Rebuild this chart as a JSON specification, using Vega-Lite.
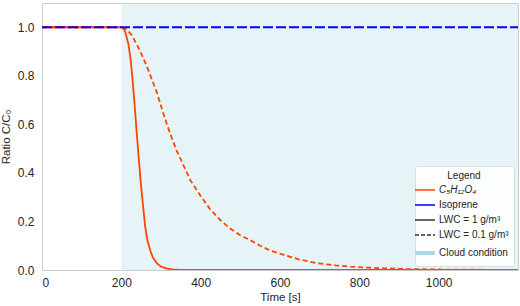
{
  "$schema": "https://vega.github.io/schema/vega-lite/v6.json",
  "width": 476,
  "height": 267,
  "autosize": "none",
  "padding": {"left": 42, "top": 3, "right": 2, "bottom": 36},
  "background": "white",
  "config": {
    "font": "Liberation Sans",
    "view": {"stroke": "#cccccc", "strokeWidth": 1},
    "axis": {"domain": false, "ticks": false, "grid": false, "labelFontSize": 12, "labelColor": "#262626", "titleColor": "#262626", "titleFontSize": 11.5, "titleFontWeight": "normal", "labelFont": "Liberation Sans", "titleFont": "Liberation Sans"}
  },
  "datasets": {
    "cloud": [{"start": 200, "end": 1200}],
    "series": [
      {"t": 0, "v": 1.0, "species": "C₅H₁₂O₄", "lwc": "LWC = 1 g/m³"},
      {"t": 200, "v": 1.0, "species": "C₅H₁₂O₄", "lwc": "LWC = 1 g/m³"},
      {"t": 205, "v": 0.995, "species": "C₅H₁₂O₄", "lwc": "LWC = 1 g/m³"},
      {"t": 210, "v": 0.98, "species": "C₅H₁₂O₄", "lwc": "LWC = 1 g/m³"},
      {"t": 218, "v": 0.93, "species": "C₅H₁₂O₄", "lwc": "LWC = 1 g/m³"},
      {"t": 224, "v": 0.86, "species": "C₅H₁₂O₄", "lwc": "LWC = 1 g/m³"},
      {"t": 229, "v": 0.77, "species": "C₅H₁₂O₄", "lwc": "LWC = 1 g/m³"},
      {"t": 234, "v": 0.67, "species": "C₅H₁₂O₄", "lwc": "LWC = 1 g/m³"},
      {"t": 239, "v": 0.56, "species": "C₅H₁₂O₄", "lwc": "LWC = 1 g/m³"},
      {"t": 244, "v": 0.46, "species": "C₅H₁₂O₄", "lwc": "LWC = 1 g/m³"},
      {"t": 249, "v": 0.36, "species": "C₅H₁₂O₄", "lwc": "LWC = 1 g/m³"},
      {"t": 255, "v": 0.26, "species": "C₅H₁₂O₄", "lwc": "LWC = 1 g/m³"},
      {"t": 260, "v": 0.18, "species": "C₅H₁₂O₄", "lwc": "LWC = 1 g/m³"},
      {"t": 266, "v": 0.12, "species": "C₅H₁₂O₄", "lwc": "LWC = 1 g/m³"},
      {"t": 273, "v": 0.08, "species": "C₅H₁₂O₄", "lwc": "LWC = 1 g/m³"},
      {"t": 280, "v": 0.05, "species": "C₅H₁₂O₄", "lwc": "LWC = 1 g/m³"},
      {"t": 290, "v": 0.027, "species": "C₅H₁₂O₄", "lwc": "LWC = 1 g/m³"},
      {"t": 300, "v": 0.014, "species": "C₅H₁₂O₄", "lwc": "LWC = 1 g/m³"},
      {"t": 315, "v": 0.006, "species": "C₅H₁₂O₄", "lwc": "LWC = 1 g/m³"},
      {"t": 330, "v": 0.002, "species": "C₅H₁₂O₄", "lwc": "LWC = 1 g/m³"},
      {"t": 350, "v": 0.0, "species": "C₅H₁₂O₄", "lwc": "LWC = 1 g/m³"},
      {"t": 1200, "v": 0.0, "species": "C₅H₁₂O₄", "lwc": "LWC = 1 g/m³"},
      {"t": 0, "v": 1.0, "species": "C₅H₁₂O₄", "lwc": "LWC = 0.1 g/m³"},
      {"t": 200, "v": 1.0, "species": "C₅H₁₂O₄", "lwc": "LWC = 0.1 g/m³"},
      {"t": 214, "v": 0.99, "species": "C₅H₁₂O₄", "lwc": "LWC = 0.1 g/m³"},
      {"t": 225, "v": 0.97, "species": "C₅H₁₂O₄", "lwc": "LWC = 0.1 g/m³"},
      {"t": 239, "v": 0.93, "species": "C₅H₁₂O₄", "lwc": "LWC = 0.1 g/m³"},
      {"t": 252, "v": 0.885, "species": "C₅H₁₂O₄", "lwc": "LWC = 0.1 g/m³"},
      {"t": 264, "v": 0.84, "species": "C₅H₁₂O₄", "lwc": "LWC = 0.1 g/m³"},
      {"t": 277, "v": 0.785, "species": "C₅H₁₂O₄", "lwc": "LWC = 0.1 g/m³"},
      {"t": 290, "v": 0.73, "species": "C₅H₁₂O₄", "lwc": "LWC = 0.1 g/m³"},
      {"t": 302, "v": 0.665, "species": "C₅H₁₂O₄", "lwc": "LWC = 0.1 g/m³"},
      {"t": 315, "v": 0.6, "species": "C₅H₁₂O₄", "lwc": "LWC = 0.1 g/m³"},
      {"t": 327, "v": 0.545, "species": "C₅H₁₂O₄", "lwc": "LWC = 0.1 g/m³"},
      {"t": 340, "v": 0.49, "species": "C₅H₁₂O₄", "lwc": "LWC = 0.1 g/m³"},
      {"t": 357, "v": 0.43, "species": "C₅H₁₂O₄", "lwc": "LWC = 0.1 g/m³"},
      {"t": 374, "v": 0.37, "species": "C₅H₁₂O₄", "lwc": "LWC = 0.1 g/m³"},
      {"t": 400, "v": 0.305, "species": "C₅H₁₂O₄", "lwc": "LWC = 0.1 g/m³"},
      {"t": 424, "v": 0.25, "species": "C₅H₁₂O₄", "lwc": "LWC = 0.1 g/m³"},
      {"t": 450, "v": 0.205, "species": "C₅H₁₂O₄", "lwc": "LWC = 0.1 g/m³"},
      {"t": 475, "v": 0.17, "species": "C₅H₁₂O₄", "lwc": "LWC = 0.1 g/m³"},
      {"t": 500, "v": 0.143, "species": "C₅H₁₂O₄", "lwc": "LWC = 0.1 g/m³"},
      {"t": 526, "v": 0.122, "species": "C₅H₁₂O₄", "lwc": "LWC = 0.1 g/m³"},
      {"t": 550, "v": 0.1, "species": "C₅H₁₂O₄", "lwc": "LWC = 0.1 g/m³"},
      {"t": 576, "v": 0.08, "species": "C₅H₁₂O₄", "lwc": "LWC = 0.1 g/m³"},
      {"t": 610, "v": 0.062, "species": "C₅H₁₂O₄", "lwc": "LWC = 0.1 g/m³"},
      {"t": 650, "v": 0.043, "species": "C₅H₁₂O₄", "lwc": "LWC = 0.1 g/m³"},
      {"t": 694, "v": 0.028, "species": "C₅H₁₂O₄", "lwc": "LWC = 0.1 g/m³"},
      {"t": 740, "v": 0.019, "species": "C₅H₁₂O₄", "lwc": "LWC = 0.1 g/m³"},
      {"t": 778, "v": 0.014, "species": "C₅H₁₂O₄", "lwc": "LWC = 0.1 g/m³"},
      {"t": 820, "v": 0.01, "species": "C₅H₁₂O₄", "lwc": "LWC = 0.1 g/m³"},
      {"t": 862, "v": 0.007, "species": "C₅H₁₂O₄", "lwc": "LWC = 0.1 g/m³"},
      {"t": 920, "v": 0.004, "species": "C₅H₁₂O₄", "lwc": "LWC = 0.1 g/m³"},
      {"t": 1000, "v": 0.002, "species": "C₅H₁₂O₄", "lwc": "LWC = 0.1 g/m³"},
      {"t": 1100, "v": 0.001, "species": "C₅H₁₂O₄", "lwc": "LWC = 0.1 g/m³"},
      {"t": 1200, "v": 0.0, "species": "C₅H₁₂O₄", "lwc": "LWC = 0.1 g/m³"},
      {"t": 0, "v": 1.0, "species": "Isoprene", "lwc": "LWC = 0.1 g/m³"},
      {"t": 1200, "v": 1.0, "species": "Isoprene", "lwc": "LWC = 0.1 g/m³"}
    ]
  },
  "layer": [
    {
      "data": {"name": "cloud"},
      "mark": {"type": "rect", "color": "#add8e6", "opacity": 0.3},
      "encoding": {
        "x": {"field": "start", "type": "quantitative"},
        "x2": {"field": "end"}
      }
    },
    {
      "data": {"name": "series"},
      "transform": [{"filter": "datum.species !== 'Isoprene'"}],
      "mark": {"type": "line", "strokeWidth": 1.8, "clip": true},
      "encoding": {
        "x": {"field": "t", "type": "quantitative"},
        "y": {"field": "v", "type": "quantitative"},
        "detail": {"field": "lwc"},
        "strokeDash": {"field": "lwc", "type": "nominal", "legend": null,
          "scale": {"domain": ["LWC = 1 g/m³", "LWC = 0.1 g/m³"], "range": [[1, 0], [5, 3]]}},
        "color": {"field": "species", "type": "nominal"}
      }
    },
    {
      "data": {"name": "series"},
      "transform": [{"filter": "datum.species === 'Isoprene'"}],
      "mark": {"type": "line", "strokeWidth": 1.8, "strokeDash": [10, 3], "clip": true},
      "encoding": {
        "x": {"field": "t", "type": "quantitative",
          "scale": {"domain": [0, 1200], "nice": false},
          "axis": {"title": "Time [s]", "values": [0, 200, 400, 600, 800, 1000], "format": "d", "labelPadding": 7, "titlePadding": 3}},
        "y": {"field": "v", "type": "quantitative",
          "scale": {"domain": [0, 1.1], "nice": false},
          "axis": {"title": "Ratio C/C₀", "values": [0, 0.2, 0.4, 0.6, 0.8, 1.0], "format": ".1f", "labelPadding": 8, "titlePadding": 6}},
        "color": {"field": "species", "type": "nominal",
          "scale": {"domain": ["C₅H₁₂O₄", "Isoprene", "LWC = 1 g/m³", "LWC = 0.1 g/m³", "Cloud condition"],
                    "range": ["#ff4500", "#0000ff", "#333333", "#333333", "#add8e6"]},
          "legend": {
            "title": "Legend",
            "orient": "bottom-right",
            "offset": 4,
            "symbolType": "stroke",
            "symbolSize": 400,
            "symbolStrokeWidth": 1.5,
            "labelOffset": 9,
            "labelFontSize": 10,
            "titleFontSize": 10,
            "titleFontWeight": "normal",
            "titleAnchor": "middle",
            "titleColor": "#262626",
            "labelColor": "#262626",
            "labelFont": "Liberation Sans",
            "titleFont": "Liberation Sans",
            "fillColor": "rgba(255,255,255,0.85)",
            "strokeColor": "#dddddd",
            "cornerRadius": 3,
            "padding": 5,
            "rowPadding": 5,
            "titlePadding": 4,
            "encode": {
              "symbols": {"update": {
                "strokeDash": {"signal": "datum.value === 'LWC = 0.1 g/m³' ? [4, 2] : [1, 0]"},
                "strokeWidth": {"signal": "datum.value === 'Cloud condition' ? 4 : 1.5"}
              }},
              "labels": {"update": {
                "fontStyle": {"signal": "datum.value === 'C₅H₁₂O₄' ? 'italic' : 'normal'"}
              }}
            }
          }
        }
      }
    }
  ]
}
